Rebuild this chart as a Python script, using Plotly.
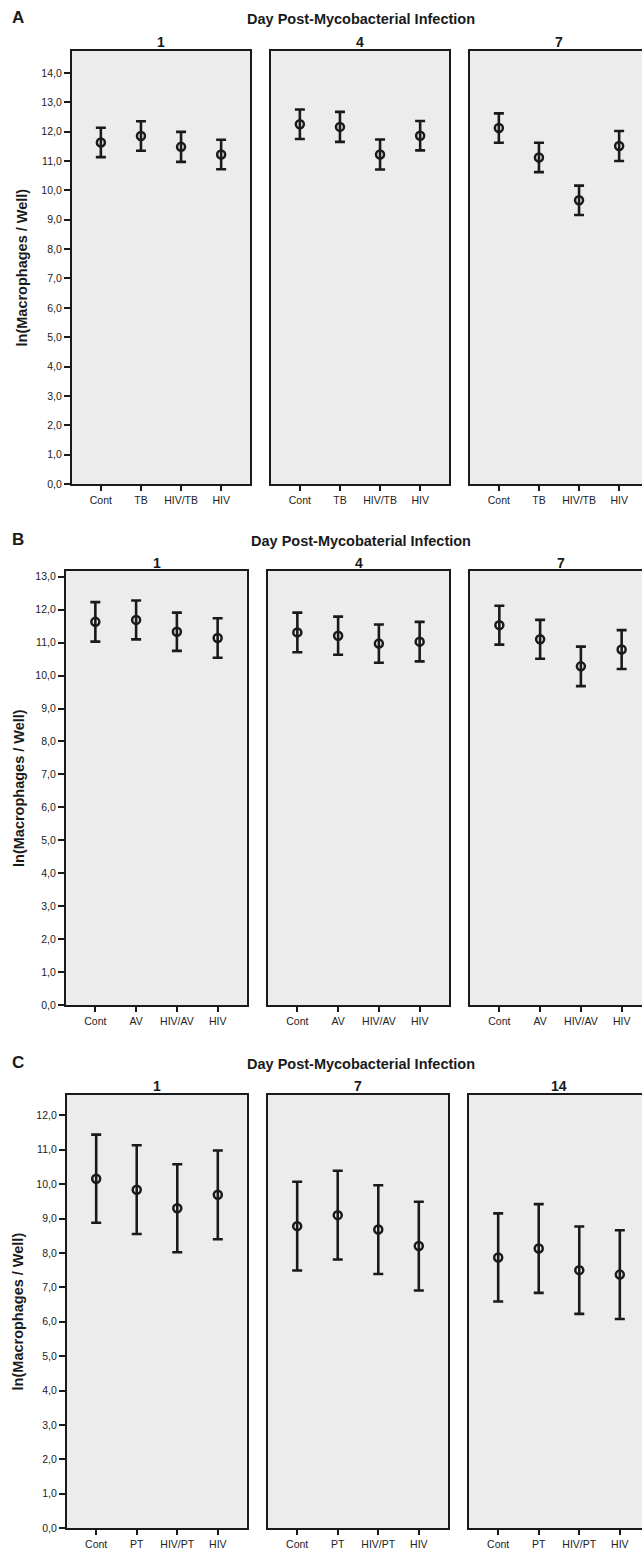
import plotly.graph_objects as go

# ---------------- data ----------------
panel_letters = ["A", "B", "C"]
row_titles = ["Day Post-Mycobacterial Infection",
              "Day Post-Mycobaterial Infection",
              "Day Post-Mycobacterial Infection"]
days_A = ["1", "4", "7"]
days_B = ["1", "4", "7"]
days_C = ["1", "7", "14"]

cats_A = ["Cont", "TB", "HIV/TB", "HIV"]
cats_B = ["Cont", "AV", "HIV/AV", "HIV"]
cats_C = ["Cont", "PT", "HIV/PT", "HIV"]

# mean ln(macrophages/well) per day panel
means_A = [[11.63, 11.85, 11.48, 11.22],
           [12.25, 12.16, 11.22, 11.86],
           [12.12, 11.12, 9.66, 11.51]]
err_A = [[0.50, 0.50, 0.51, 0.50],
         [0.50, 0.51, 0.51, 0.50],
         [0.50, 0.50, 0.50, 0.51]]

means_B = [[11.63, 11.69, 11.33, 11.14],
           [11.31, 11.21, 10.97, 11.03],
           [11.53, 11.10, 10.28, 10.79]]
err_B = [[0.60, 0.59, 0.58, 0.60],
         [0.60, 0.58, 0.58, 0.60],
         [0.59, 0.59, 0.60, 0.59]]

means_C = [[10.16, 9.84, 9.30, 9.69],
           [8.78, 9.10, 8.68, 8.20],
           [7.87, 8.13, 7.50, 7.37]]
err_C = [[1.28, 1.29, 1.28, 1.29],
         [1.29, 1.29, 1.29, 1.29],
         [1.28, 1.29, 1.27, 1.29]]

yticks_A = list(range(0, 15))
yticks_B = list(range(0, 14))
yticks_C = list(range(0, 13))

y_title = "ln(Macrophages / Well)"

# ---------------- layout geometry (pixels) ----------------
W, H = 642, 1554
FONT = "Liberation Sans, Arial, sans-serif"
INK = "#1a1a1a"
BG = "#ececec"

rows = [
    dict(letter=panel_letters[0], title=row_titles[0], days=days_A, cats=cats_A,
         means=means_A, errs=err_A, yticks=yticks_A, ytop=14.75,
         boxes=[(72, 250), (271, 449), (470, 648)], ybox=(51, 486),
         title_y=19, day_y=42, ytitle_x=22),
    dict(letter=panel_letters[1], title=row_titles[1], days=days_B, cats=cats_B,
         means=means_B, errs=err_B, yticks=yticks_B, ytop=13.18,
         boxes=[(66, 247), (268, 449), (470, 651)], ybox=(573, 1009),
         title_y=543, day_y=565, ytitle_x=19),
    dict(letter=panel_letters[2], title=row_titles[2], days=days_C, cats=cats_C,
         means=means_C, errs=err_C, yticks=yticks_C, ytop=12.6,
         boxes=[(67, 247), (268, 448), (469, 649)], ybox=(1099, 1534),
         title_y=1068, day_y=1090, ytitle_x=18),
]

XL, XR = -0.72, 3.72


def px(x):
    return x / W


def py(y):
    return 1 - y / H


fig = go.Figure()
annotations = []
k = 0
for r in rows:
    y0, y1 = r["ybox"]
    annotations.append(dict(text="<b>%s</b>" % r["letter"], x=px(18), y=py(r["title_y"] - 1),
                            xref="paper", yref="paper", showarrow=False,
                            xanchor="center", yanchor="middle",
                            font=dict(family=FONT, size=17, color=INK)))
    annotations.append(dict(text="<b>%s</b>" % r["title"], x=px(361), y=py(r["title_y"]),
                            xref="paper", yref="paper", showarrow=False,
                            xanchor="center", yanchor="middle",
                            font=dict(family=FONT, size=14.5, color=INK)))
    annotations.append(dict(text="<b>%s</b>" % y_title, x=px(r["ytitle_x"]),
                            y=py((y0 + y1) / 2), textangle=-90,
                            xref="paper", yref="paper", showarrow=False,
                            xanchor="center", yanchor="middle",
                            font=dict(family=FONT, size=14.5, color=INK)))
    for j in range(3):
        k += 1
        a, b = r["boxes"][j]
        xr = XR
        dom_end = b
        if b > W:
            dom_end = W
            xr = XL + (W - a) / (b - a) * (XR - XL)
        xa = "xaxis%d" % k
        ya = "yaxis%d" % k
        fig.add_trace(go.Scatter(
            x=r["cats"], y=r["means"][j],
            error_y=dict(type="data", array=r["errs"][j], thickness=2.6, width=5, color=INK),
            mode="markers",
            marker=dict(symbol="circle-open", size=8, color=INK, line=dict(width=2.5, color=INK)),
            xaxis="x%d" % k, yaxis="y%d" % k, showlegend=False, hoverinfo="skip"))
        fig.update_layout(**{
            xa: dict(domain=[px(a), px(dom_end)], anchor="y%d" % k, type="category",
                     categoryorder="array", categoryarray=r["cats"],
                     range=[XL, xr], showgrid=False, zeroline=False,
                     showline=True, linecolor=INK, linewidth=2.3, mirror=True,
                     ticks="outside", ticklen=5, tickwidth=2, tickcolor=INK,
                     tickfont=dict(family=FONT, size=10.5, color="#222"), fixedrange=True),
            ya: dict(domain=[py(y1), py(y0)], anchor="x%d" % k,
                     range=[0, r["ytop"]], showgrid=False, zeroline=False,
                     showline=True, linecolor=INK, linewidth=2.3,
                     mirror=(b <= W),
                     ticks="outside" if j == 0 else "", ticklen=6, tickwidth=2, tickcolor=INK,
                     tickvals=r["yticks"] if j == 0 else [],
                     ticktext=[("%d,0" % v) for v in r["yticks"]] if j == 0 else [],
                     showticklabels=(j == 0),
                     tickfont=dict(family=FONT, size=10.5, color="#222"), fixedrange=True),
        })
        annotations.append(dict(text="<b>%s</b>" % r["days"][j], x=px((a + b) / 2),
                                y=py(r["day_y"]), xref="paper", yref="paper",
                                showarrow=False, xanchor="center", yanchor="middle",
                                font=dict(family=FONT, size=14, color=INK)))

fig.update_layout(width=W, height=H, margin=dict(l=0, r=0, t=0, b=0),
                  paper_bgcolor="white", plot_bgcolor=BG,
                  annotations=annotations, showlegend=False)

fig.write_html("out.html")
